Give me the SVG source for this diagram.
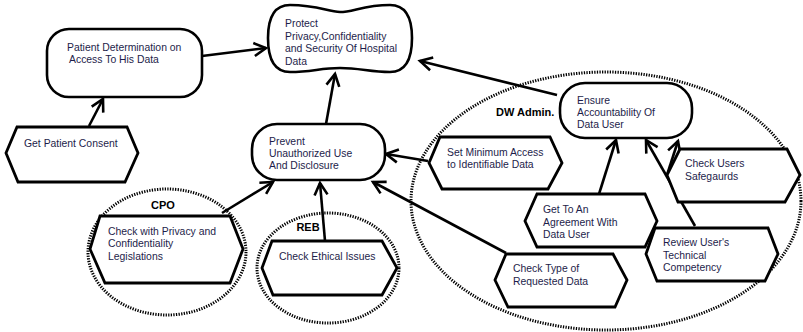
<svg xmlns="http://www.w3.org/2000/svg" width="803" height="332" viewBox="0 0 803 332">
<defs>
<style>
.t{font-family:"Liberation Sans",Arial,sans-serif;font-size:10.4px;fill:#1d1d4a}
.b{font-family:"Liberation Sans",Arial,sans-serif;font-size:11px;font-weight:bold;fill:#000}
.box{fill:#fff;stroke:#000;stroke-width:2.6}
.hex{fill:#fff;stroke:#000;stroke-width:2.8;stroke-linejoin:miter}
.grp{fill:none;stroke:#000;stroke-width:3;stroke-dasharray:1.3 1.3}
.c{fill:none;stroke:#000;stroke-width:2.6;marker-end:url(#ah)}
</style>
<marker id="ah" markerUnits="userSpaceOnUse" markerWidth="20" markerHeight="20" refX="0" refY="0" viewBox="-14 -10 16 20" orient="auto">
<path d="M -12 -6.5 L 0 0 L -12 6.5" fill="none" stroke="#000" stroke-width="2.6"/>
</marker>
</defs>
<rect width="803" height="332" fill="#fff"/>
<g id="groups">
<ellipse class="grp" cx="606" cy="201" rx="195" ry="129"/>
<ellipse class="grp" cx="167" cy="252" rx="79" ry="63"/>
<ellipse class="grp" cx="328" cy="268" rx="71" ry="55"/>
<text class="b" x="496" y="116">DW Admin.</text>
<text class="b" x="163" y="209" text-anchor="middle">CPO</text>
<text class="b" x="308" y="231" text-anchor="middle">REB</text>
</g>
<g id="connectors">
<line class="c" x1="89" y1="126" x2="103" y2="99"/>
<line class="c" x1="202" y1="56" x2="266" y2="48"/>
<line class="c" x1="326" y1="124" x2="335" y2="74"/>
<line class="c" x1="557" y1="95" x2="420" y2="61"/>
<line class="c" x1="428" y1="161" x2="386" y2="154"/>
<line class="c" x1="506" y1="253" x2="373" y2="182"/>
<line class="c" x1="222" y1="213" x2="273" y2="182"/>
<line class="c" x1="325" y1="241" x2="320" y2="183"/>
<line class="c" x1="599" y1="194" x2="616" y2="140"/>
<line class="c" x1="695" y1="226" x2="646" y2="140"/>
<line class="c" x1="667" y1="175" x2="678" y2="141"/>
</g>
<g id="protect">
<path class="box" d="M 290 5 C 318 5 328 12 340 12 C 353 12 364 5 390 5 Q 412 5 412 38 Q 412 72 390 72 C 370 72 360 68 340 68 C 320 68 312 72 290 72 Q 268 72 268 38 Q 268 5 290 5 Z"/>
<text class="t" x="285" y="27">Protect</text>
<text class="t" x="285" y="39.5">Privacy,Confidentiality</text>
<text class="t" x="285" y="52">and Security Of Hospital</text>
<text class="t" x="285" y="64.5">Data</text>
</g>
<g id="patient-determination">
<rect class="box" x="47" y="29" width="155" height="68" rx="22"/>
<text class="t" x="67" y="51">Patient Determination on</text>
<text class="t" x="69" y="63">Access To His Data</text>
</g>
<g id="get-patient-consent">
<polygon class="hex" points="17,127 127,127 138,153 125,182 18,182 6,153"/>
<text class="t" x="24" y="147">Get Patient Consent</text>
</g>
<g id="prevent">
<rect class="box" x="252" y="124" width="133" height="56" rx="25"/>
<text class="t" x="269" y="145">Prevent</text>
<text class="t" x="269" y="157">Unauthorized Use</text>
<text class="t" x="269" y="169">And Disclosure</text>
</g>
<g id="ensure">
<rect class="box" x="560" y="83" width="132" height="55" rx="25"/>
<text class="t" x="577" y="104">Ensure</text>
<text class="t" x="577" y="116">Accountability Of</text>
<text class="t" x="577" y="128">Data User</text>
</g>
<g id="set-minimum">
<polygon class="hex" points="440,137 550,137 562,163 548,189 442,189 429,163"/>
<text class="t" x="447" y="156">Set Minimum Access</text>
<text class="t" x="447" y="168">to Identifiable Data</text>
</g>
<g id="check-type">
<polygon class="hex" points="506,254 613,254 627,280 615,307 508,307 495,280"/>
<text class="t" x="513" y="272">Check Type of</text>
<text class="t" x="513" y="285">Requested Data</text>
</g>
<g id="agreement">
<polygon class="hex" points="537,194 645,194 657,221 645,247 537,247 525,221"/>
<text class="t" x="543" y="213">Get To An</text>
<text class="t" x="543" y="226">Agreement With</text>
<text class="t" x="543" y="238">Data User</text>
</g>
<g id="review">
<polygon class="hex" points="655,228 768,228 778,254 765,281 657,281 646,254"/>
<text class="t" x="663" y="246">Review User's</text>
<text class="t" x="663" y="259">Technical</text>
<text class="t" x="663" y="271">Competency</text>
</g>
<g id="safeguards">
<polygon class="hex" points="680,149 787,149 800,175 785,202 678,202 667,175"/>
<text class="t" x="685" y="167">Check Users</text>
<text class="t" x="685" y="180">Safegaurds</text>
</g>
<g id="check-privacy">
<polygon class="hex" points="100,216 230,216 243,249 230,283 105,283 90,249"/>
<text class="t" x="108" y="235">Check with Privacy and</text>
<text class="t" x="108" y="247">Confidentiality</text>
<text class="t" x="108" y="260">Legislations</text>
</g>
<g id="check-ethical">
<polygon class="hex" points="272,241 382,241 397,268 382,295 273,295 262,268"/>
<text class="t" x="279" y="260">Check Ethical Issues</text>
</g>
</svg>
